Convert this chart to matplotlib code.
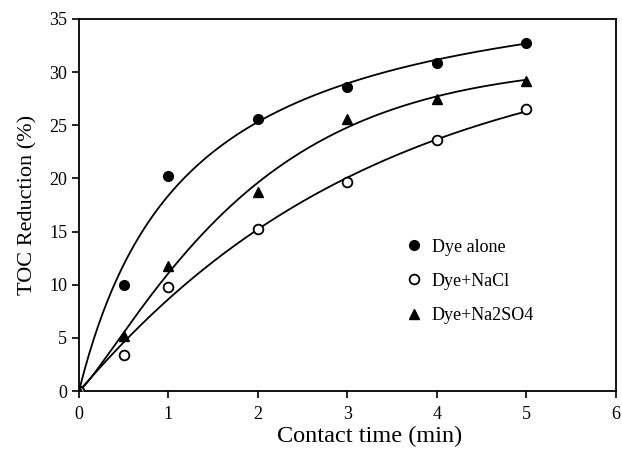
import numpy as np
import matplotlib
matplotlib.use("Agg")
import matplotlib.pyplot as plt

time = [0, 0.5, 1, 2, 3, 4, 5]
dye_alone = [0, 10.0, 20.2, 25.6, 28.6, 30.9, 32.7]
dye_nacl = [0, 3.4, 9.8, 15.2, 19.7, 23.6, 26.5]
dye_na2so4 = [0, 5.2, 11.8, 18.7, 25.6, 27.5, 29.2]

plt.rcParams['font.family'] = ['Liberation Serif', 'DejaVu Serif']


def hyperbola(t, k, n):
    return t ** n / (k + t ** n)


def weibull(t, k, n):
    return 1 - np.exp(-(k * t) ** n)


def fit(model, t, y, n_values):
    # grid search over k, n; amplitude by least squares
    t = np.asarray(t, float)
    y = np.asarray(y, float)
    best = None
    for k in np.linspace(0.05, 3, 300):
        for n in n_values:
            f = model(t, k, n)
            a = (f @ y) / (f @ f)
            sse = ((a * f - y) ** 2).sum()
            if best is None or sse < best[0]:
                best = (sse, a, k, n)
    return best[1:]


fig = plt.figure(figsize=(6.22, 4.51), dpi=100)
ax = fig.add_axes([0.127, 0.133, 0.863, 0.825])

t_fine = np.linspace(0, 5, 300)
free_n = np.linspace(0.6, 1.6, 101)
series = [
    (dye_alone, hyperbola, [1.0], dict(marker='o', mfc='black', mec='black', ms=7), 'Dye alone'),
    (dye_nacl, weibull, free_n, dict(marker='o', mfc='white', mec='black', mew=1.3, ms=7), 'Dye+NaCl'),
    (dye_na2so4, weibull, free_n, dict(marker='^', mfc='black', mec='black', ms=7), 'Dye+Na2SO4'),
]
handles = []
for y, model, n_values, style, label in series:
    a, k, n = fit(model, time, y, n_values)
    ax.plot(t_fine, a * model(t_fine, k, n), color='black', lw=1.3, zorder=2)
    h, = ax.plot(time, y, ls='none', zorder=3, label=label, **style)
    handles.append(h)

ax.set_xlim(0, 6)
ax.set_ylim(0, 35)
ax.set_xticks(range(0, 7))
ax.set_yticks(range(0, 36, 5))
ax.tick_params(direction='out', length=5, width=1.2, labelsize=13)
ax.tick_params(axis='x', pad=6)
for s in ax.spines.values():
    s.set_linewidth(1.3)

ax.set_xlabel('Contact time (min)', fontsize=17.5)
ax.xaxis.set_label_coords(0.542, -0.095)
ax.set_ylabel('TOC Reduction (%)', fontsize=16, labelpad=8)

ax.legend(handles=handles, loc='center left', bbox_to_anchor=(0.58, 0.295),
          frameon=False, fontsize=13, handletextpad=0.6, labelspacing=0.95,
          handlelength=0.8)

fig.savefig('out.png', dpi=100)
